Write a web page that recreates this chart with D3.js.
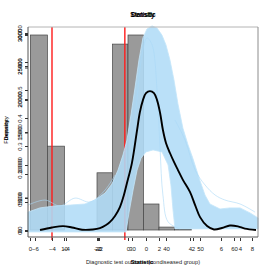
<!DOCTYPE html>
<html>
<head>
<meta charset="utf-8">
<script src="https://cdn.jsdelivr.net/npm/d3@7"></script>
<style>
  body { margin: 0; background: #fff; }
  text { font-family: "Liberation Sans", Arial, sans-serif; }
</style>
</head>
<body>
<div id="chart"></div>
<script>
// histogram of the outcome (bins on the -6..8 axis)
const binEdges = [-6.3, -5.2, -4.1, -3, -2, -1, 0, 1, 2, 3, 4.1];
const binCounts = [3000, 1290, 0, 0, 880, 2860, 3000, 400, 45, 8];

// cut-offs drawn in red (density axis units)
const cutoffs = [-4.0, -0.9];

// smoothed density of the sample
const densX = [-4.51, -4.0, -3.53, -3.15, -2.72, -2.26, -1.96, -1.70, -1.53, -1.32, -1.11, -0.94, -0.81, -0.60, -0.38, -0.26, -0.13, 0.0, 0.17, 0.34, 0.47, 0.60, 0.72, 0.85, 1.02, 1.19, 1.36, 1.57, 1.87, 2.09, 2.30, 2.60, 2.89, 3.23, 3.57, 3.91, 4.21, 4.68];
const densY = [0.0, 0.009, 0.014, 0.009, 0.001, 0.002, 0.007, 0.018, 0.029, 0.05, 0.082, 0.125, 0.168, 0.239, 0.357, 0.421, 0.464, 0.489, 0.496, 0.489, 0.464, 0.418, 0.357, 0.311, 0.275, 0.243, 0.214, 0.179, 0.136, 0.089, 0.046, 0.014, 0.002, 0.007, 0.016, 0.013, 0.005, 0.0];

// envelope of the bootstrap densities: outer edge left->right, then inner edge right->left
const bandOuter = [[-5.02, -0.007], [-5.02, 0.064], [-4.51, 0.079], [-3.87, 0.086], [-3.23, 0.089], [-2.60, 0.093], [-2.17, 0.107], [-1.74, 0.132], [-1.45, 0.164], [-1.19, 0.214], [-0.98, 0.268], [-0.81, 0.321], [-0.64, 0.411], [-0.47, 0.507], [-0.30, 0.607], [-0.13, 0.686], [0.04, 0.718], [0.26, 0.729], [0.47, 0.721], [0.68, 0.696], [0.85, 0.661], [1.02, 0.607], [1.19, 0.536], [1.36, 0.45], [1.57, 0.364], [1.79, 0.304], [1.99, 0.257], [2.30, 0.175], [2.51, 0.125], [2.72, 0.093], [3.15, 0.075], [3.57, 0.079], [4.00, 0.079], [4.43, 0.061], [4.77, 0.043], [4.77, 0.004]];
const bandInner = [[1.23, 0.004], [1.23, 0.007], [1.15, 0.071], [1.06, 0.161], [0.94, 0.232], [0.68, 0.279], [0.30, 0.286], [0.0, 0.279], [-0.21, 0.257], [-0.38, 0.214], [-0.55, 0.143], [-0.72, 0.064], [-0.85, -0.007]];

// a few of the single bootstrap curves that stray from the band
const strayCurves = [
  [[-2.17, 0.007], [-1.32, 0.054], [-0.77, 0.179], [-0.43, 0.429], [-0.17, 0.625], [0.04, 0.686], [0.26, 0.661], [0.47, 0.5], [0.6, 0.286], [0.72, 0.125], [0.94, 0.029], [1.45, 0.004]],
  [[1.23, 0.393], [1.66, 0.321], [2.09, 0.214], [2.51, 0.161], [2.94, 0.125], [3.36, 0.107], [4.0, 0.093], [4.64, 0.064]],
  [[-5.02, 0.089], [-4.3, 0.107], [-3.66, 0.086], [-3.02, 0.114], [-2.38, 0.1], [-1.74, 0.143], [-1.32, 0.196]]
];

// tick values of the overlaid axes
const histTicks = [-6, -4, -2, 0, 2, 4, 6, 8];
const densTicks = [-4, -2, 0, 2, 4];
const outTicks = [0, 10, 20, 30, 40, 50, 60];
const freqTicks = [0, 500, 1000, 1500, 2000, 2500, 3000];
const countTicks = [0, 5000, 10000, 15000, 20000, 25000, 30000];
const densYTicks = [0, 0.1, 0.2, 0.3, 0.4, 0.5, 0.6, 0.7];

const W = 273, H = 273;
const box = {left: 28, right: 258, top: 27, bottom: 237};

const svg = d3.select("#chart").append("svg")
  .attr("width", W).attr("height", H);

const xHist = d3.scaleLinear().domain([-6, 8]).range([35, 252]);
const xDens = d3.scaleLinear().domain([-4, 4]).range([52, 240]);
const xOut = d3.scaleLinear().domain([0, 60]).range([30, 234]);
const yFreq = d3.scaleLinear().domain([0, 3000]).range([230, 35]);
const yCount = d3.scaleLinear().domain([0, 30000]).range([231, 33]);
const yDens = d3.scaleLinear().domain([0, 0.5]).range([230, 90]);

// histogram bars
const bars = binCounts.map((c, i) => ({x0: binEdges[i], x1: binEdges[i + 1], n: c}));
svg.append("g").selectAll("rect")
  .data(bars.filter(d => d.n > 0))
  .enter().append("rect")
    .attr("x", d => xHist(d.x0))
    .attr("y", d => yFreq(d.n))
    .attr("width", d => xHist(d.x1) - xHist(d.x0))
    .attr("height", d => yFreq(0) - yFreq(d.n))
    .attr("fill", "#9a9a9a")
    .attr("stroke", "#444")
    .attr("stroke-width", 0.7);

// cut-off lines
svg.append("g").selectAll("line")
  .data(cutoffs)
  .enter().append("line")
    .attr("x1", d => xDens(d)).attr("x2", d => xDens(d))
    .attr("y1", box.top).attr("y2", 240)
    .attr("stroke", "#ff1a1a")
    .attr("stroke-width", 1.4);

const lineXY = d3.line().x(d => xDens(d[0])).y(d => yDens(d[1]));

// bootstrap band
svg.append("path")
  .attr("d", lineXY(bandOuter.concat(bandInner)) + "Z")
  .attr("fill", "#b0dcf7")
  .attr("fill-opacity", 0.88)
  .attr("stroke", "#c4e6fa")
  .attr("stroke-width", 0.8);

svg.append("g").selectAll("path")
  .data(strayCurves)
  .enter().append("path")
    .attr("d", lineXY.curve(d3.curveCatmullRom))
    .attr("fill", "none")
    .attr("stroke", "#a9d9f6")
    .attr("stroke-width", 0.6);

// sample density
const dens = densX.map((x, i) => [x, densY[i]]);
svg.append("path")
  .datum(dens)
  .attr("d", d3.line().x(d => xDens(d[0])).y(d => yDens(d[1])).curve(d3.curveCatmullRom))
  .attr("fill", "none")
  .attr("stroke", "#000")
  .attr("stroke-width", 1.9);

// box
svg.append("line").attr("x1", box.left).attr("x2", box.right).attr("y1", box.top).attr("y2", box.top)
  .attr("stroke", "#b4b4b4").attr("stroke-width", 1);
svg.append("line").attr("x1", box.right).attr("x2", box.right).attr("y1", box.top).attr("y2", box.bottom)
  .attr("stroke", "#8c8c8c").attr("stroke-width", 1);
svg.append("line").attr("x1", box.left).attr("x2", box.right).attr("y1", box.bottom).attr("y2", box.bottom)
  .attr("stroke", "#555").attr("stroke-width", 1);
svg.append("line").attr("x1", box.left).attr("x2", box.left).attr("y1", box.top).attr("y2", box.bottom)
  .attr("stroke", "#555").attr("stroke-width", 1);

const fmtMinus = d => d < 0 ? "\u2212" + Math.abs(d) : String(d);

function bottomAxis(scale, ticks, fmt) {
  const g = svg.append("g")
    .attr("transform", "translate(0," + box.bottom + ")")
    .call(d3.axisBottom(scale).tickValues(ticks).tickSize(3).tickFormat(fmt));
  g.select(".domain").remove();
  g.selectAll("line").attr("stroke", "#333").attr("transform", "translate(0,1)");
  g.selectAll("text")
    .attr("y", 14).attr("dy", 0)
    .attr("fill", "#222")
    .attr("font-size", "6px");
}
bottomAxis(xOut, outTicks, String);
bottomAxis(xHist, histTicks, fmtMinus);
bottomAxis(xDens, densTicks, fmtMinus);

function leftAxis(scale, ticks, fmt) {
  const g = svg.append("g")
    .attr("transform", "translate(" + box.left + ",0)")
    .call(d3.axisLeft(scale).tickValues(ticks).tickSize(3).tickFormat(fmt));
  g.select(".domain").remove();
  g.selectAll("line").attr("stroke", "#333");
  g.selectAll("text")
    .attr("transform", "rotate(-90)")
    .attr("x", 0).attr("y", -6).attr("dy", 0)
    .attr("text-anchor", "middle")
    .attr("fill", "#222")
    .attr("font-size", "6px");
}
leftAxis(yFreq, freqTicks, String);
leftAxis(yCount, countTicks, String);
leftAxis(yDens, densYTicks, d3.format(".1f"));

// titles, overplotted like the source
["Density", "Statistic"].forEach(t => {
  svg.append("text")
    .attr("x", 143).attr("y", 17)
    .attr("text-anchor", "middle")
    .attr("font-size", "6.5px")
    .attr("font-weight", "bold")
    .text(t);
});

svg.append("text")
  .attr("x", 143).attr("y", 264)
  .attr("text-anchor", "middle")
  .attr("font-size", "5.6px")
  .attr("fill", "#222")
  .attr("textLength", 114)
  .text("Diagnostic test outcome (nondiseased group)");
svg.append("text")
  .attr("x", 142).attr("y", 264)
  .attr("text-anchor", "middle")
  .attr("font-size", "5.8px")
  .attr("font-weight", "bold")
  .text("Statistic");

["Frequency", "Density"].forEach(t => {
  svg.append("text")
    .attr("transform", "translate(8,130) rotate(-90)")
    .attr("text-anchor", "middle")
    .attr("font-size", "5.8px")
    .attr("font-weight", t === "Density" ? "bold" : "normal")
    .text(t);
});
</script>
</body>
</html>
